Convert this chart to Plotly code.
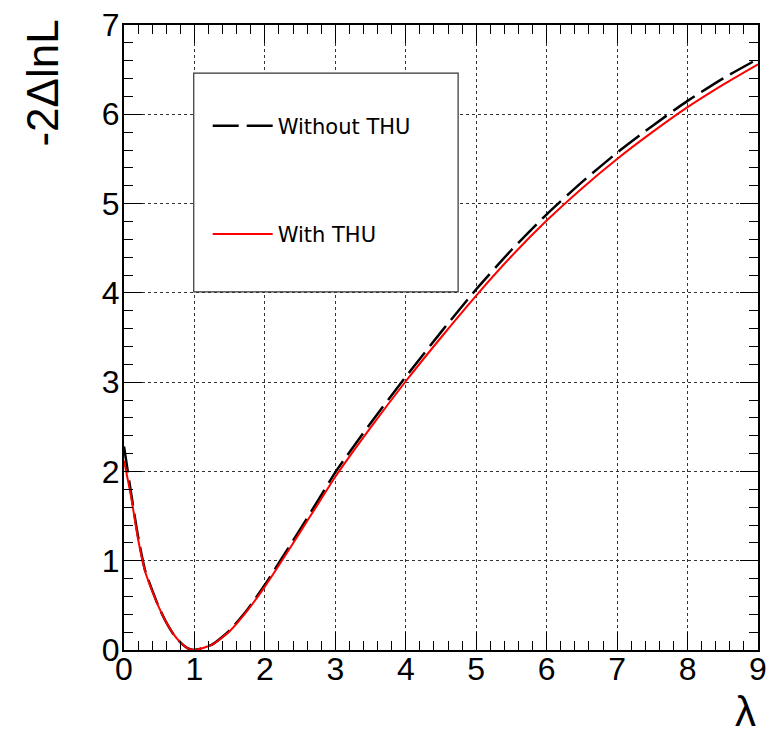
import plotly.graph_objects as go

# lambda grid
lam = [0.0, 0.1, 0.2, 0.3, 0.4, 0.5, 0.6, 0.7, 0.8, 0.9, 1.0, 1.25, 1.5, 1.75,
       2.0, 2.25, 2.5, 2.75, 3.0, 3.5, 4.0, 4.5, 5.0, 5.5, 6.0, 6.5, 7.0, 7.5, 8.0, 8.5, 9.0]

# -2 Delta lnL without theory uncertainty (black dashed)
without_thu = [2.28, 1.76, 1.27, 0.89, 0.67, 0.47, 0.31, 0.18, 0.085, 0.022, 0.0, 0.06, 0.22, 0.45,
               0.73, 1.04, 1.35, 1.67, 1.99, 2.54, 3.06, 3.56, 4.04, 4.48, 4.88,
               5.24, 5.57, 5.87, 6.15, 6.40, 6.62]

# -2 Delta lnL with theory uncertainty (red solid)
with_thu = [2.12, 1.72, 1.24, 0.88, 0.66, 0.47, 0.31, 0.18, 0.085, 0.022, 0.0, 0.06, 0.21, 0.44,
            0.71, 1.01, 1.32, 1.63, 1.94, 2.49, 3.01, 3.50, 3.97, 4.41, 4.81,
            5.17, 5.50, 5.80, 6.08, 6.33, 6.56]

x_range = [0, 9]
y_range = [0, 7]
x_ticks = list(range(0, 10))
y_ticks = list(range(0, 8))

fig = go.Figure()
fig.add_trace(go.Scatter(x=lam, y=without_thu, mode="lines", name="Without THU",
                         legendgroup="a", line=dict(color="black", width=2.5, dash="26px,8px", shape="spline", smoothing=0.6)))
fig.add_trace(go.Scatter(x=lam, y=with_thu, mode="lines", name="With THU",
                         legendgroup="b", line=dict(color="#ff0000", width=2, shape="spline", smoothing=0.6)))

tickfont = dict(family="Liberation Sans, Arial, sans-serif", size=32, color="black")
axis_common = dict(
    showline=True, linecolor="black", linewidth=2, mirror="allticks",
    ticks="inside", ticklen=18, tickwidth=1, tickcolor="black",
    minor=dict(ticks="inside", ticklen=9, tickwidth=1, tickcolor="black", dtick=0.2, showgrid=False),
    showgrid=True, gridcolor="#333", griddash="dot", gridwidth=1,
    zeroline=False, tickfont=tickfont, automargin=False,
)
fig.update_xaxes(range=x_range, tickvals=x_ticks, ticklabelstandoff=-10, **axis_common)
fig.update_yaxes(range=y_range, tickvals=y_ticks, ticklabelstandoff=-4, **axis_common)

fig.update_layout(
    width=768, height=734,
    margin=dict(l=124, r=10, t=25, b=84, autoexpand=False),
    plot_bgcolor="white", paper_bgcolor="white",
    showlegend=True,
    legend=dict(x=0.132, y=0.871, xanchor="left", yanchor="top",
                bgcolor="rgba(0,0,0,0)", borderwidth=0,
                font=dict(family="DejaVu Sans", size=21, color="black"),
                tracegroupgap=78, traceorder="grouped", itemwidth=60),
    shapes=[dict(type="rect", xref="paper", yref="paper", x0=0.110, x1=0.527, y0=0.573, y1=0.923,
                 line=dict(color="#333", width=1.2), fillcolor="white", layer="above")],
    annotations=[
        dict(text="-2\u0394lnL", xref="paper", yref="paper", x=-0.13, y=1.012,
             xanchor="center", yanchor="top", textangle=-90, showarrow=False,
             font=dict(family="Liberation Sans, Arial, sans-serif", size=44, color="black")),
        dict(text="\u03bb", xref="paper", yref="paper", x=1.0, y=-0.099,
             xanchor="right", yanchor="middle", showarrow=False,
             font=dict(family="Liberation Sans, Arial, sans-serif", size=42, color="black")),
    ],
)

fig.write_html("out.html")
